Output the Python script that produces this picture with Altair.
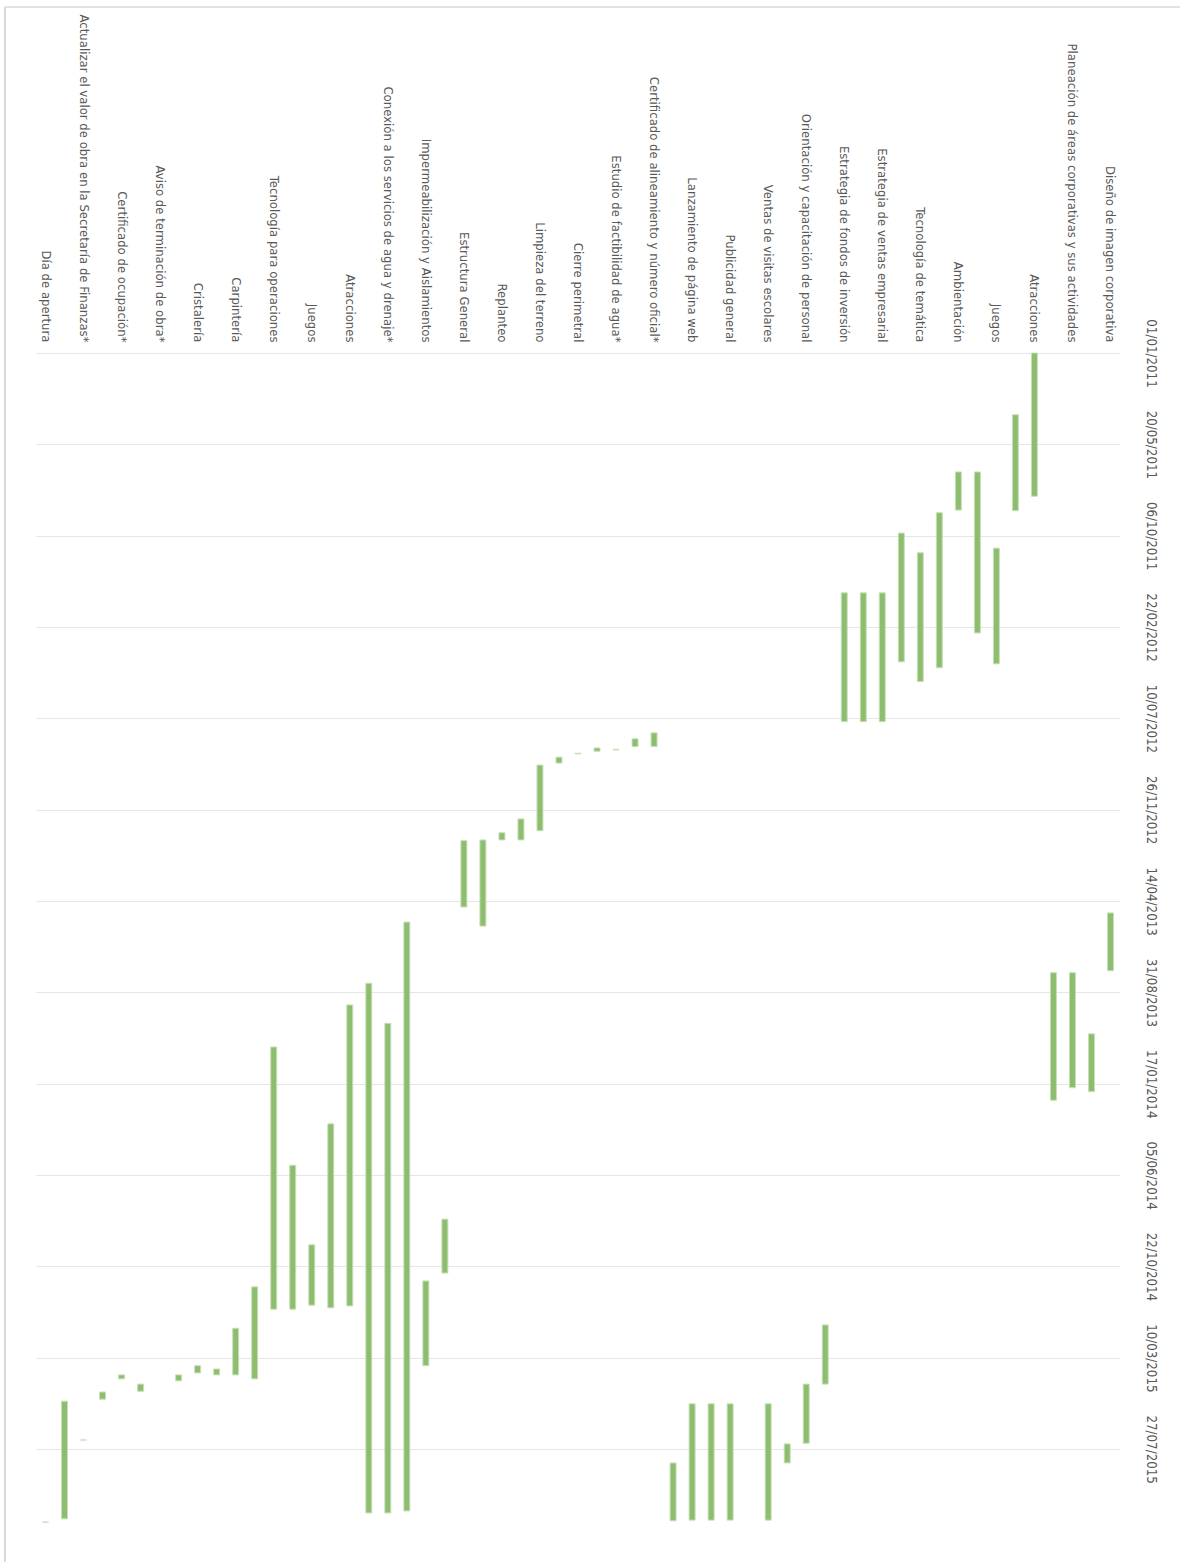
import json
import altair as alt
import pandas as pd

# Tasks (left to right); odd rows have no visible label in the reference
tareas = [
    "Día de apertura", "",
    "Actualizar el valor de obra en la Secretaría de Finanzas*", "",
    "Certificado de ocupación*", "",
    "Aviso de terminación de obra*", "",
    "Cristalería", "",
    "Carpintería", "",
    "Tecnología para operaciones", "",
    "Juegos", "",
    "Atracciones", "",
    "Conexión a los servicios de agua y drenaje*", "",
    "Impermeabilización y Aislamientos", "",
    "Estructura General", "",
    "Replanteo", "",
    "Limpieza del terreno", "",
    "Cierre perimetral", "",
    "Estudio de factibilidad de agua*", "",
    "Certificado de alineamiento y número oficial*", "",
    "Lanzamiento de página web", "",
    "Publicidad general", "",
    "Ventas de visitas escolares", "",
    "Orientación y capacitación de personal", "",
    "Estrategia de fondos de inversión", "",
    "Estrategia de ventas empresarial", "",
    "Tecnología de temática", "",
    "Ambientación", "",
    "Juegos", "",
    "Atracciones", "",
    "Planeación de áreas corporativas y sus actividades", "",
    "Diseño de imagen corporativa",
]

inicio = [
    "2015-11-15", "2015-05-15", "2015-07-13", "2015-05-01", "2015-04-05",
    "2015-04-19", None, "2015-04-05", "2015-03-22", "2015-03-27",
    "2015-01-24", "2014-11-22", "2013-11-22", "2014-05-21", "2014-09-19",
    "2014-03-19", "2013-09-19", "2013-08-17", "2013-10-17", "2013-05-16",
    "2014-11-13", "2014-08-11", "2013-01-12", "2013-01-11", "2012-12-31",
    "2012-12-10", "2012-09-19", "2012-09-07", "2012-09-01", "2012-08-24",
    "2012-08-26", "2012-08-10", "2012-08-01", "2015-08-17", "2015-05-19",
    "2015-05-19", "2015-05-19", None, "2015-05-19", "2015-07-19",
    "2015-04-19", "2015-01-19", "2012-01-01", "2012-01-01", "2012-01-01",
    "2011-10-02", "2011-11-01", "2011-09-01", "2011-07-01", "2011-07-01",
    "2011-10-25", "2011-04-05", "2011-01-01", "2013-08-01", "2013-08-01",
    "2013-11-02", "2013-05-02",
]

fin = [
    "2015-11-15", "2015-11-10", "2015-07-13", "2015-05-12", "2015-04-11",
    "2015-04-30", None, "2015-04-14", "2015-04-02", "2015-04-05",
    "2015-04-05", "2015-04-11", "2014-12-26", "2014-12-26", "2014-12-20",
    "2014-12-24", "2014-12-21", "2015-11-01", "2015-11-01", "2015-10-29",
    "2015-03-22", "2014-11-01", "2013-04-23", "2013-05-22", "2013-01-11",
    "2013-01-11", "2012-12-28", "2012-09-16", "2012-09-02", "2012-08-29",
    "2012-08-27", "2012-08-22", "2012-08-22", "2015-11-13", "2015-11-12",
    "2015-11-12", "2015-11-12", None, "2015-11-12", "2015-08-17",
    "2015-07-18", "2015-04-19", "2012-07-15", "2012-07-15", "2012-07-15",
    "2012-04-15", "2012-05-15", "2012-04-24", "2011-08-28", "2012-03-02",
    "2012-04-18", "2011-08-29", "2011-08-07", "2014-02-11", "2014-01-23",
    "2014-01-29", "2013-07-29",
]

# Date axis ticks (every 139 days)
ticks_fecha = [
    (2011, 1, 1), (2011, 5, 20), (2011, 10, 6), (2012, 2, 22), (2012, 7, 10),
    (2012, 11, 26), (2013, 4, 14), (2013, 8, 31), (2014, 1, 17), (2014, 6, 5),
    (2014, 10, 22), (2015, 3, 10), (2015, 7, 27),
]
dominio_fecha = [(2011, 1, 1), (2015, 11, 27)]

FONT = "'Liberation Sans Narrow', 'DejaVu Sans Condensed', 'Liberation Sans', sans-serif"
VERDE = "#8dbd6e"

rows = [
    {"idx": i, "tarea": tareas[i], "inicio": s, "fin": e}
    for i, (s, e) in enumerate(zip(inicio, fin))
    if s is not None
]
df = pd.DataFrame(rows)


def dt(t):
    return alt.DateTime(year=t[0], month=t[1], date=t[2], utc=True)


W, H = 1084, 1177
label_expr = json.dumps(tareas, ensure_ascii=False) + "[datum.value]"

bars = alt.Chart(df).mark_bar(
    size=6, color=VERDE, stroke="#c8e0b8", strokeWidth=1
).encode(
    x=alt.X(
        "idx:O",
        scale=alt.Scale(domain=list(range(len(tareas))), paddingInner=0, paddingOuter=0),
        axis=alt.Axis(
            orient="top", labelExpr=label_expr, labelAngle=90, labelAlign="right",
            labelBaseline="middle", labelPadding=11, labelLimit=500, ticks=False,
            domain=False, grid=False, title=None, labelFont=FONT, labelFontSize=13,
            labelColor="#595959", labelOverlap=False,
        ),
    ),
    y=alt.Y(
        "inicio:T",
        scale=alt.Scale(type="utc", domain=[dt(d) for d in dominio_fecha], reverse=True, nice=False),
        axis=alt.Axis(
            orient="right", values=[dt(t) for t in ticks_fecha], format="%d/%m/%Y",
            labelAngle=90, labelAlign="center", labelBaseline="bottom", labelPadding=23,
            ticks=False, domain=False, grid=True, gridColor="#e6e6e6", gridWidth=1,
            title=None, labelFont=FONT, labelFontSize=13.2, labelColor="#595959",
            labelOverlap=False, labelFlush=False,
        ),
    ),
    y2="fin:T",
)

marco_df = pd.DataFrame({"k": [0]})
borde_izq = alt.Chart(marco_df).mark_rule(color="#d9d9d9", strokeWidth=2).encode(
    x=alt.value(-31), y=alt.value(-346), y2=alt.value(H + 40)
)
borde_sup = alt.Chart(marco_df).mark_rule(color="#d9d9d9", strokeWidth=1.5).encode(
    x=alt.value(-31), x2=alt.value(W + 70), y=alt.value(-346)
)

chart = alt.layer(bars, borde_izq, borde_sup).properties(
    width=W, height=H,
    autosize=alt.AutoSizeParams(type="none"),
    padding={"left": 36, "top": 353, "right": 60, "bottom": 32},
    background="white",
).configure_view(stroke=None)

chart.save("out.html", embed_options={"renderer": "svg", "actions": False})
